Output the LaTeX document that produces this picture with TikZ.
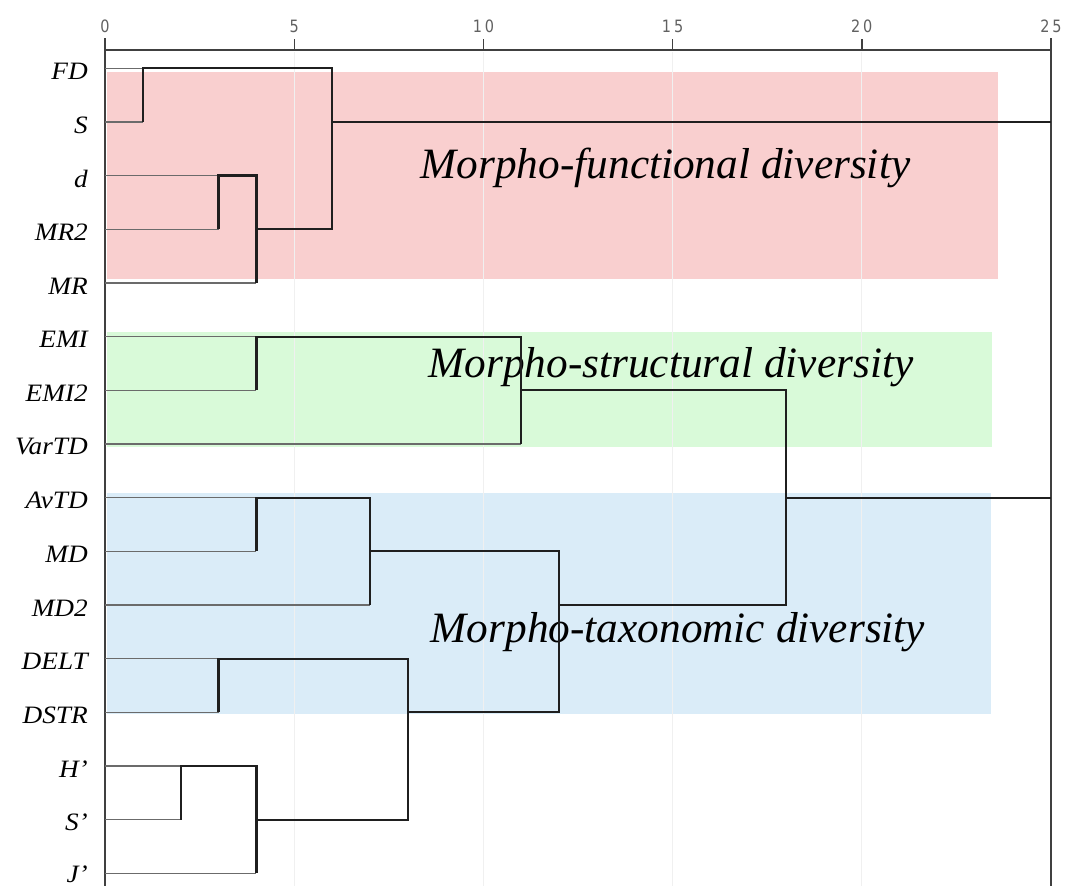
\documentclass[tikz,border=0pt]{standalone}
\usepackage{fontspec}
\setmainfont{Liberation Serif}
\newfontfamily\lblfont[FakeStretch=1.09]{Liberation Serif}
\newfontfamily\tickfont[FakeStretch=0.85]{DejaVu Sans}
\definecolor{pinkbg}{RGB}{249,207,207}
\definecolor{greenbg}{RGB}{217,250,217}
\definecolor{bluebg}{RGB}{218,236,248}
\begin{document}
\begin{tikzpicture}[x=1pt,y=-1pt,
  axisline/.style={draw=black!75,line width=1.4pt},
  gridline/.style={draw=black!6,line width=0.8pt},
  ticklbl/.style={font=\tickfont\fontsize{17}{17}\selectfont,text=black!62,inner sep=0pt},
  rowlbl/.style={font=\lblfont\itshape\fontsize{25}{25}\selectfont,anchor=east,inner sep=0pt,yshift=-3pt},
  biglbl/.style={font=\itshape\fontsize{43.3}{43.3}\selectfont,anchor=base,inner sep=0pt},
  leaf/.style={draw=black!58,line width=1.5pt},
  link/.style={draw=black!88,line width=2.3pt,line join=miter}]
\useasboundingbox (0,0) rectangle (1069,886);
\fill[white] (0,0) rectangle (1069,886);
% coloured group bands
\fill[pinkbg] (107,72) rectangle (998,279);
\fill[greenbg] (107,332) rectangle (992,447);
\fill[bluebg] (107,493) rectangle (991,714);
% faint grid
\foreach \gx in {294.2,483.4,672.6,861.8} \draw[gridline] (\gx,52) -- (\gx,886);
% axes
\draw[axisline] (105,38) -- (105,886);
\draw[axisline] (1051,38) -- (1051,886);
\draw[axisline] (105,50) -- (1051,50);
\foreach \gx in {294.2,483.4,672.6,861.8} \draw[axisline] (\gx,50) -- (\gx,39);
\node[ticklbl] (t0) at (105,26) {0};
\node[ticklbl] (t5) at (294.2,26) {5};
\node[ticklbl] (t10) at (483.4,26) {1\,0};
\node[ticklbl] (t15) at (672.6,26) {1\,5};
\node[ticklbl] (t20) at (861.8,26) {2\,0};
\node[ticklbl] (t25) at (1051,26) {2\,5};
% group titles
\node[biglbl] (mf) at (665.5,178) {Morpho-functional diversity};
\node[biglbl] (ms) at (671,377) {Morpho-structural diversity};
\node[biglbl] (mt) at (678,642) {Morpho-taxonomic diversity};
% dendrogram
\begin{scope}[shift={(105pt,-68.3pt)},x=37.84pt,y=-53.67pt]
  \foreach \r/\t in {0/FD,1/S,2/d,3/MR2,4/MR,5/EMI,6/EMI2,7/VarTD,8/AvTD,9/MD,10/MD2,11/DELT,12/DSTR,13/H’,14/S’}
    \node[rowlbl] (r\r) at (-0.45,\r) {\t};
  \node[rowlbl,yshift=2pt] (r15) at (-0.45,15) {J’};
  % leaves
  \foreach \r/\h in {0/1,1/1,2/3,3/3,4/4,5/4,6/4,7/11,8/4,9/4,10/7,11/3,12/3,13/2,14/2,15/4}
    \draw[leaf] (0,\r) -- (\h,\r);
  % links
  \draw[link] (1,1) -- (1,0) -- (6,0) -- (6,3) -- (4,3);
  \draw[link] (3,3) -- (3,2) -- (4,2) -- (4,4);
  \draw[link] (6,1) -- (25,1);
  \draw[link] (4,6) -- (4,5) -- (11,5) -- (11,7);
  \draw[link] (11,6) -- (18,6) -- (18,10) -- (12,10);
  \draw[link] (18,8) -- (25,8);
  \draw[link] (4,9) -- (4,8) -- (7,8) -- (7,10);
  \draw[link] (7,9) -- (12,9) -- (12,12) -- (8,12);
  \draw[link] (3,12) -- (3,11) -- (8,11) -- (8,14) -- (4,14);
  \draw[link] (2,14) -- (2,13) -- (4,13) -- (4,15);
\end{scope}
\end{tikzpicture}
\end{document}
